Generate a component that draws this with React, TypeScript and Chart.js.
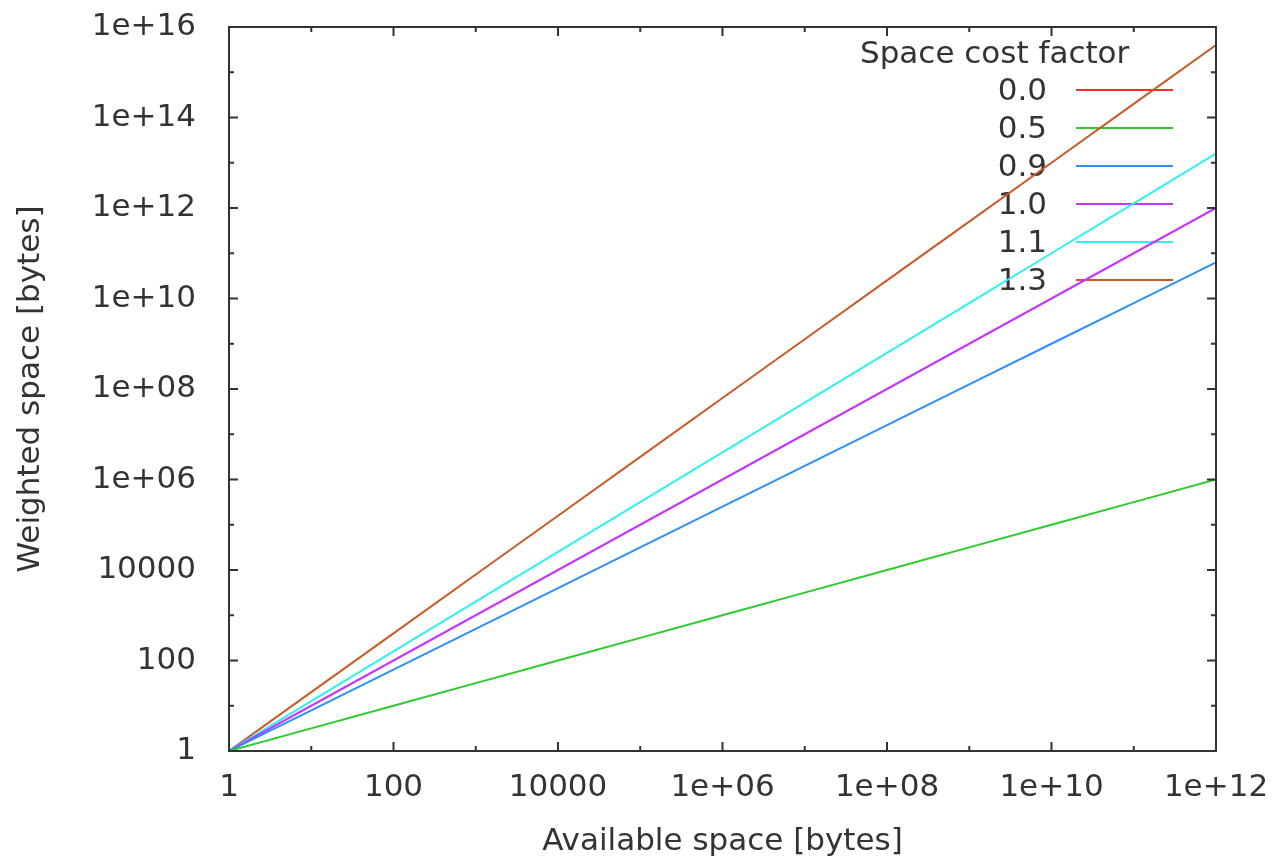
import React, { useEffect, useRef } from 'react';
import { Chart, registerables } from 'chart.js';

Chart.register(...registerables);

// ---- data ----
const availableSpace = [1, 10, 100, 1e3, 1e4, 1e5, 1e6, 1e7, 1e8, 1e9, 1e10, 1e11, 1e12];
const factorLabels = ['0.0', '0.5', '0.9', '1.0', '1.1', '1.3'];
const weighted00 = [1, 1, 1, 1, 1, 1, 1, 1, 1, 1, 1, 1, 1];
const weighted05 = [1, 3.162, 10, 31.62, 100, 316.2, 1000, 3162, 1e4, 31620, 1e5, 316200, 1e6];
const weighted09 = [1, 7.943, 63.1, 501.2, 3981, 31620, 251200, 1.995e6, 1.585e7, 1.259e8, 1e9, 7.943e9, 6.31e10];
const weighted10 = [1, 10, 100, 1e3, 1e4, 1e5, 1e6, 1e7, 1e8, 1e9, 1e10, 1e11, 1e12];
const weighted11 = [1, 12.59, 158.5, 1995, 25120, 316200, 3.981e6, 5.012e7, 6.31e8, 7.943e9, 1e11, 1.259e12, 1.585e13];
const weighted13 = [1, 19.95, 398.1, 7943, 158500, 3.162e6, 6.31e7, 1.259e9, 2.512e10, 5.012e11, 1e13, 1.995e14, 3.981e15];
const seriesValues = [weighted00, weighted05, weighted09, weighted10, weighted11, weighted13];
const seriesColors = ['#ff2a2a', '#2ccc2c', '#2d8fff', '#c435ff', '#2ef0f0', '#c85a28'];

const xTickValues = [1, 100, 1e4, 1e6, 1e8, 1e10, 1e12];
const xTickLabels = ['1', '100', '10000', '1e+06', '1e+08', '1e+10', '1e+12'];
const xMinorTicks = [10, 1e3, 1e5, 1e7, 1e9, 1e11];
const yTickValues = [1, 100, 1e4, 1e6, 1e8, 1e10, 1e12, 1e14, 1e16];
const yTickLabels = ['1', '100', '10000', '1e+06', '1e+08', '1e+10', '1e+12', '1e+14', '1e+16'];
const yMinorTicks = [10, 1e3, 1e5, 1e7, 1e9, 1e11, 1e13, 1e15];

const xTitle = 'Available space [bytes]';
const yTitle = 'Weighted space [bytes]';
const legendTitle = 'Space cost factor';

const FONT_FAMILY = '"DejaVu Sans", sans-serif';
const FONT_SIZE = 31;
const TEXT_COLOR = '#333333';
const AXIS_COLOR = '#333333';

const legendPlugin = {
  id: 'gnuKey',
  beforeDatasetsDraw(chart: any) {
    const ctx = chart.ctx;
    ctx.save();
    ctx.font = `${FONT_SIZE}px ${FONT_FAMILY}`;
    ctx.fillStyle = TEXT_COLOR;
    ctx.textBaseline = 'middle';
    ctx.textAlign = 'left';
    ctx.fillText(legendTitle, 860, 55);
    chart.data.datasets.forEach((ds: any, i: number) => {
      const y = 90 + i * 38;
      ctx.textAlign = 'right';
      ctx.fillStyle = TEXT_COLOR;
      ctx.fillText(ds.label, 1047, y + 2);
      ctx.strokeStyle = ds.borderColor;
      ctx.lineWidth = 2;
      ctx.beginPath();
      ctx.moveTo(1076, y);
      ctx.lineTo(1173, y);
      ctx.stroke();
    });
    ctx.restore();
  },
};

const framePlugin = {
  id: 'gnuFrame',
  afterDatasetsDraw(chart: any) {
    const ctx = chart.ctx;
    const { left, right, top, bottom } = chart.chartArea;
    const xs = chart.scales.x;
    const ys = chart.scales.y;
    ctx.save();
    ctx.strokeStyle = AXIS_COLOR;
    ctx.lineWidth = 2;
    ctx.strokeRect(left, top, right - left, bottom - top);
    const MAJ = 9;
    const MIN = 5;
    ctx.beginPath();
    const xTick = (v: number, len: number) => {
      const px = xs.getPixelForValue(v);
      ctx.moveTo(px, bottom);
      ctx.lineTo(px, bottom - len);
      ctx.moveTo(px, top);
      ctx.lineTo(px, top + len);
    };
    const yTick = (v: number, len: number) => {
      const py = ys.getPixelForValue(v);
      ctx.moveTo(left, py);
      ctx.lineTo(left + len, py);
      ctx.moveTo(right, py);
      ctx.lineTo(right - len, py);
    };
    xTickValues.forEach((v) => xTick(v, MAJ));
    xMinorTicks.forEach((v) => xTick(v, MIN));
    yTickValues.forEach((v) => yTick(v, MAJ));
    yMinorTicks.forEach((v) => yTick(v, MIN));
    ctx.stroke();
    ctx.restore();
  },
};

const zeroPadding = (s: any) => {
  s.paddingTop = 0;
  s.paddingBottom = 0;
  s.paddingLeft = 0;
  s.paddingRight = 0;
};

export default function App() {
  const canvasRef = useRef<HTMLCanvasElement | null>(null);

  useEffect(() => {
    document.body.style.margin = '0';
    const canvas = canvasRef.current;
    if (!canvas) return;
    const font = { family: FONT_FAMILY, size: FONT_SIZE };
    const chart = new Chart(canvas, {
      type: 'line',
      data: {
        datasets: seriesValues.map((vals, i) => ({
          label: factorLabels[i],
          data: availableSpace.map((x, j) => ({ x, y: vals[j] })),
          borderColor: seriesColors[i],
          backgroundColor: seriesColors[i],
          borderWidth: 2,
          pointRadius: 0,
          tension: 0,
          fill: false,
        })),
      },
      options: {
        animation: false,
        responsive: false,
        maintainAspectRatio: false,
        layout: { padding: { top: 27, right: 58, left: 0, bottom: 0 } },
        plugins: {
          legend: { display: false },
          tooltip: { enabled: false },
        },
        scales: {
          x: {
            type: 'logarithmic',
            position: 'bottom',
            min: 1,
            max: 1e12,
            grid: { display: false, drawTicks: false },
            border: { display: false },
            afterBuildTicks: (s: any) => {
              s.ticks = xTickValues.map((v) => ({ value: v }));
            },
            afterFit: (s: any) => {
              s.height = 111;
              zeroPadding(s);
            },
            ticks: {
              autoSkip: false,
              maxRotation: 0,
              padding: 18,
              color: TEXT_COLOR,
              font,
              callback: (_v: any, i: number) => xTickLabels[i],
            },
            title: {
              display: true,
              text: xTitle,
              color: TEXT_COLOR,
              font,
              padding: { top: 0, bottom: 1 },
            },
          },
          y: {
            type: 'logarithmic',
            position: 'left',
            min: 1,
            max: 1e16,
            grid: { display: false, drawTicks: false },
            border: { display: false },
            afterBuildTicks: (s: any) => {
              s.ticks = yTickValues.map((v) => ({ value: v }));
            },
            afterFit: (s: any) => {
              s.width = 229;
              zeroPadding(s);
            },
            ticks: {
              autoSkip: false,
              padding: 33,
              color: TEXT_COLOR,
              font,
              callback: (_v: any, i: number) => yTickLabels[i],
            },
            title: {
              display: true,
              text: yTitle,
              color: TEXT_COLOR,
              font,
              padding: { top: 12, bottom: 0 },
            },
          },
        },
      },
      plugins: [legendPlugin, framePlugin],
    } as any);
    return () => chart.destroy();
  }, []);

  return (
    <div style={{ position: 'absolute', left: 0, top: 0, width: 1274, height: 862, background: '#fff' }}>
      <canvas ref={canvasRef} width={1274} height={862} style={{ display: 'block' }} />
    </div>
  );
}
